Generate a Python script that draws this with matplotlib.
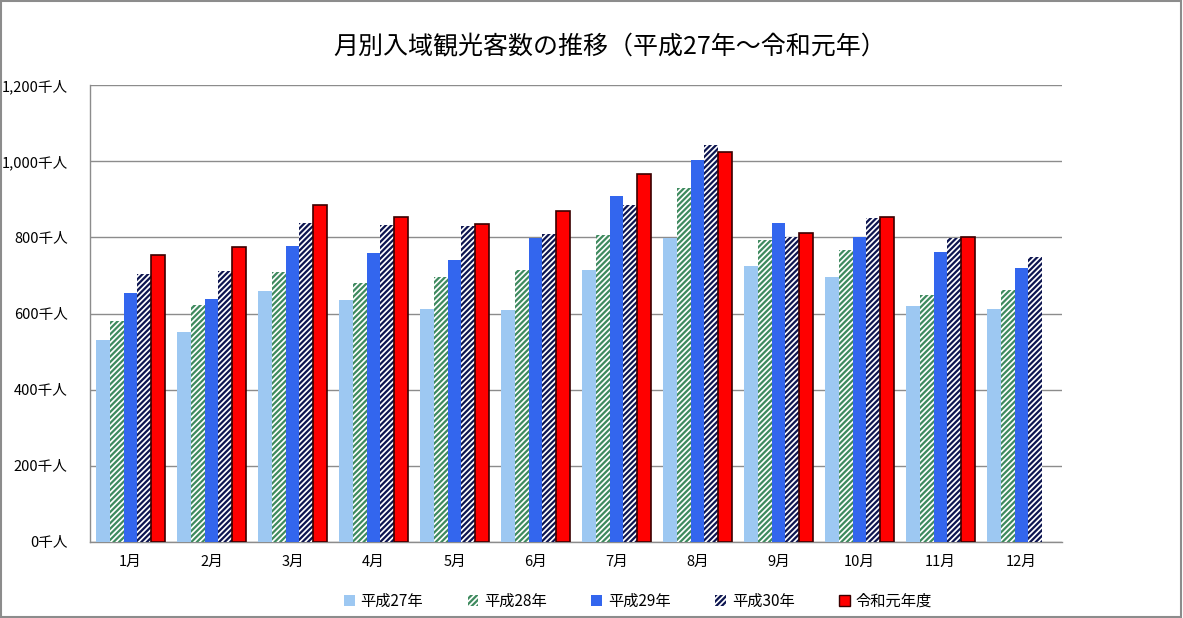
import matplotlib
matplotlib.use("Agg")
import matplotlib.pyplot as plt
from matplotlib.patches import Rectangle, Patch
import numpy as np

plt.rcParams['font.family'] = ['Noto Sans CJK JP', 'DejaVu Sans']

months = ["1月", "2月", "3月", "4月", "5月", "6月", "7月", "8月", "9月", "10月", "11月", "12月"]
series_names = ["平成27年", "平成28年", "平成29年", "平成30年", "令和元年度"]
h27 = [530, 551, 659, 635, 612, 609, 714, 798, 724, 696, 619, 612]
h28 = [580, 622, 709, 680, 696, 714, 806, 929, 793, 766, 648, 661]
h29 = [653, 638, 777, 759, 740, 798, 908, 1003, 837, 800, 761, 719]
h30 = [703, 711, 837, 832, 829, 808, 884, 1042, 800, 850, 798, 748]
r1 = [753, 774, 884, 853, 835, 869, 966, 1024, 811, 853, 800, None]
yticks = [0, 200, 400, 600, 800, 1000, 1200]
ytick_labels = ["0千人", "200千人", "400千人", "600千人", "800千人", "1,000千人", "1,200千人"]
title = "月別入域観光客数の推移（平成27年～令和元年）"

fig = plt.figure(figsize=(11.83, 6.18), dpi=100)
ax = fig.add_axes([90/1183, 1-542/618, (1062-90)/1183, (542-85)/618])

x = np.arange(len(months))
w = 0.172
offsets = np.array([-2, -1, 0, 1, 2]) * w

plt.rcParams['hatch.linewidth'] = 1.6

styles = [
    dict(color="#9DC8F2", linewidth=0),
    dict(facecolor="white", edgecolor="#3E8A5E", hatch="//////", linewidth=0),
    dict(color="#3366EE", linewidth=0),
    dict(facecolor="white", edgecolor="#0D1550", hatch="//////", linewidth=0),
    dict(color="#FF0000", edgecolor="#3A0000", linewidth=1.2),
]
data = [h27, h28, h29, h30, r1]
for i, (vals, st) in enumerate(zip(data, styles)):
    xs = [xi + offsets[i] for xi, v in zip(x, vals) if v is not None]
    vs = [v for v in vals if v is not None]
    ax.bar(xs, vs, width=w, zorder=3, **st)

ax.set_xlim(-0.5, 11.5)
ax.set_ylim(0, 1200)
ax.set_yticks(yticks)
ax.set_yticklabels(ytick_labels, fontsize=10.5)
ax.set_xticks(x)
ax.set_xticklabels(months, fontsize=10.5)
ax.tick_params(axis='both', length=0)
ax.tick_params(axis='y', pad=16)
ax.tick_params(axis='x', pad=9)
ax.yaxis.grid(True, color="#8C8C8C", linewidth=1, zorder=0)
ax.set_axisbelow(True)
for s in ["top", "right"]:
    ax.spines[s].set_visible(False)
for s in ["left", "bottom"]:
    ax.spines[s].set_color("#8C8C8C")
    ax.spines[s].set_linewidth(1)

fig.text(610/1183, 1-47/618, title, ha="center", va="center", fontsize=18)

handles = [Patch(**st) for st in styles]
handles[4] = Patch(facecolor="#FF0000", edgecolor="#3A0000", linewidth=1)
fig.legend(handles, series_names, loc="center", bbox_to_anchor=(638/1183, 1-601/618),
           ncol=5, frameon=False, fontsize=11, handlelength=0.7, handleheight=0.7,
           columnspacing=2.9, handletextpad=0.4)

fig.patches.append(Rectangle((0.0005, 0.001), 0.998, 0.997, transform=fig.transFigure,
                             fill=False, edgecolor="#8C8C8C", linewidth=1.5))

fig.savefig("out.png", dpi=100)
